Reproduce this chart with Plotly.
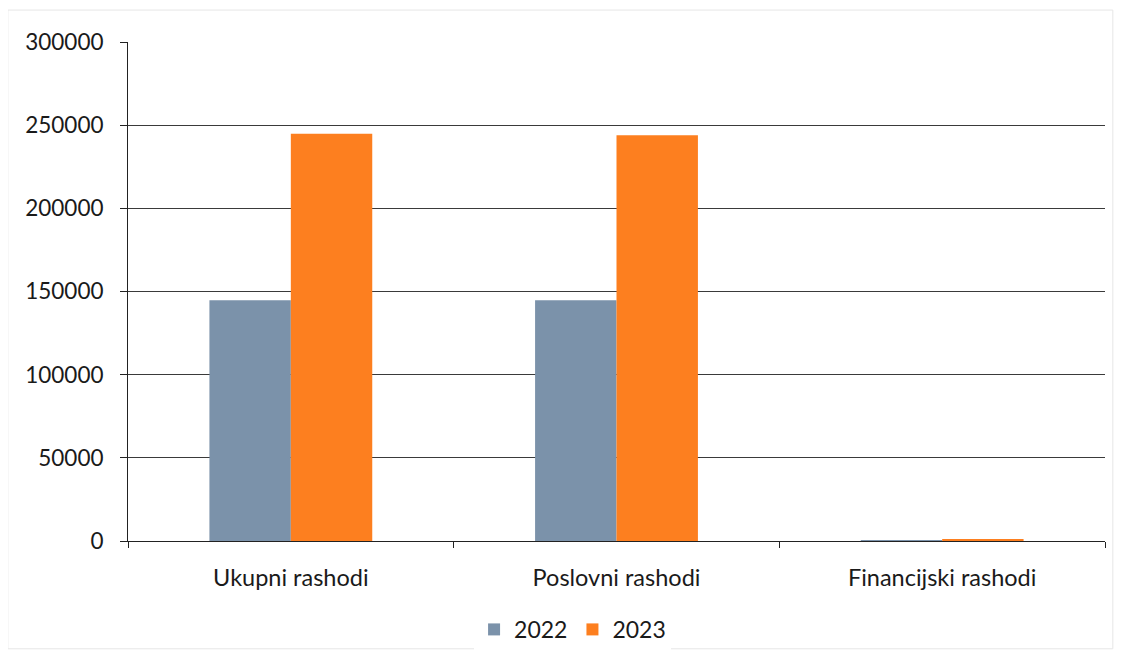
import plotly.graph_objects as go

categories = ["Ukupni rashodi", "Poslovni rashodi", "Financijski rashodi"]
values_2022 = [144700, 144700, 100]
values_2023 = [244900, 243900, 900]
y_ticks = [0, 50000, 100000, 150000, 200000, 250000, 300000]

FONT = "Lato, 'Open Sans', sans-serif"

fig = go.Figure()
fig.add_trace(go.Bar(name="2022", x=categories, y=values_2022,
                     marker=dict(color="#7b92aa", line=dict(width=0))))
fig.add_trace(go.Bar(name="2023", x=categories, y=values_2023,
                     marker=dict(color="#fd7f1f", line=dict(width=0))))

fig.update_layout(
    width=1107, height=644,
    margin=dict(l=120, r=10, t=34, b=111, autoexpand=False),
    paper_bgcolor="white", plot_bgcolor="white",
    barmode="group", bargap=0.5, bargroupgap=0,
    font=dict(family=FONT, size=22, color="#1a1a1a"),
    showlegend=True,
    legend=dict(orientation="h", xref="container", yref="container",
                x=0.51, xanchor="center", y=0.035, yanchor="middle",
                font=dict(size=23), itemwidth=30, traceorder="normal"),
)
fig.update_yaxes(range=[0, 300000], tickvals=y_ticks, ticktext=[str(v) for v in y_ticks],
                 tickfont=dict(size=22.5),
                 showgrid=True, gridcolor="#3a3a3a", gridwidth=1,
                 showline=True, linecolor="#222", linewidth=1,
                 ticks="outside", ticklen=7, tickcolor="#222",
                 ticklabelstandoff=12, zeroline=False)
fig.update_xaxes(showline=True, linecolor="#222", linewidth=1,
                 tickfont=dict(size=23.5),
                 ticks="outside", ticklen=6, tickcolor="#222", tickson="boundaries",
                 ticklabelstandoff=16, showgrid=False)

fig.add_shape(type="rect", xref="paper", yref="paper", x0=-0.123, x1=1.008, y0=-0.216, y1=1.064,
              line=dict(color="#e6e6e6", width=1), fillcolor="rgba(0,0,0,0)")

fig.write_html("out.html")
